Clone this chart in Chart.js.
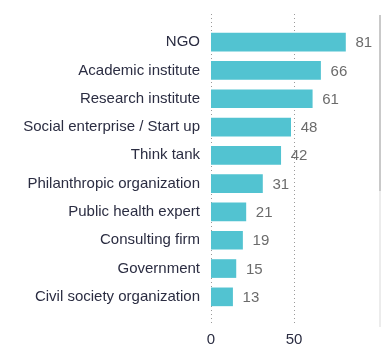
<!DOCTYPE html>
<html><head><meta charset="utf-8">
<script src="https://cdn.jsdelivr.net/npm/chart.js@4.4.0/dist/chart.umd.min.js"></script>
<style>
html,body{margin:0;padding:0;background:#fff;}
#wrap{position:relative;width:382px;height:347px;}
#sb1{position:absolute;left:379px;top:15px;width:2px;height:176px;background:#c9c9c9;}
#sb2{position:absolute;left:379px;top:191px;width:2px;height:136px;background:#ececec;}
</style></head>
<body>
<div id="wrap"><canvas id="c" width="382" height="347"></canvas><div id="sb1"></div><div id="sb2"></div></div>
<script>
const categories = ["NGO","Academic institute","Research institute","Social enterprise / Start up","Think tank","Philanthropic organization","Public health expert","Consulting firm","Government","Civil society organization"];
const values = [81,66,61,48,42,31,21,19,15,13];
const xTicks = [0,50];

const FONT = "'Liberation Sans', Arial, Helvetica, sans-serif";

const gridPlugin = {
  id:'dotgrid',
  beforeDatasetsDraw(chart){
    const ctx = chart.ctx, xs = chart.scales.x;
    ctx.save();
    ctx.strokeStyle = '#9a9a9a';
    ctx.lineWidth = 1;
    ctx.setLineDash([1,3]);
    xTicks.forEach(v=>{
      const x = Math.round(xs.getPixelForValue(v))+0.5;
      ctx.beginPath(); ctx.moveTo(x,14); ctx.lineTo(x,326); ctx.stroke();
    });
    ctx.restore();
  },
  afterDatasetsDraw(chart){
    const ctx = chart.ctx;
    const meta = chart.getDatasetMeta(0);
    ctx.save();
    ctx.fillStyle = '#6b6b6b';
    ctx.font = '15px ' + FONT;
    ctx.textBaseline = 'middle';
    ctx.textAlign = 'left';
    meta.data.forEach((bar,i)=>{
      ctx.fillText(String(values[i]), bar.x + 10, bar.y + 1);
    });
    ctx.restore();
  }
};

new Chart(document.getElementById('c'), {
  type:'bar',
  data:{labels:categories, datasets:[{data:values, backgroundColor:'#52c3d1', borderWidth:0, barThickness:18}]},
  options:{
    indexAxis:'y',
    responsive:false,
    animation:false,
    events:[],
    layout:{padding:{top:28,left:0,right:5,bottom:0}},
    plugins:{legend:{display:false},tooltip:{enabled:false}},
    scales:{
      x:{
        min:0,max:100,
        afterBuildTicks(s){ s.ticks = xTicks.map(v=>({value:v})); },
        afterFit(s){ s.height = 36; },
        grid:{display:false,drawTicks:false},
        border:{display:false},
        ticks:{padding:20,color:'#2b2d42',font:{family:FONT,size:15},maxRotation:0,autoSkip:false}
      },
      y:{
        afterFit(s){ s.width = 211; },
        grid:{display:false,drawTicks:false},
        border:{display:false},
        ticks:{padding:11,color:'#2b2d42',font:{family:FONT,size:15},autoSkip:false}
      }
    }
  },
  plugins:[gridPlugin]
});
</script>
</body></html>
